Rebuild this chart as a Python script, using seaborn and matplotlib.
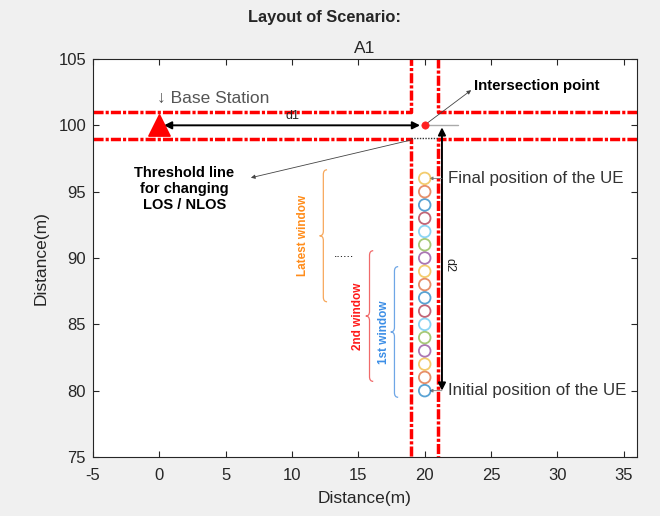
import numpy as np
import matplotlib
matplotlib.use("Agg")
import matplotlib.pyplot as plt
from matplotlib.path import Path
from matplotlib.patches import PathPatch
import seaborn as sns
import pandas as pd

# ---------------- data ----------------
ue_x = [20] * 17
ue_y = [80, 81, 82, 83, 84, 85, 86, 87, 88, 89, 90, 91, 92, 93, 94, 95, 96]
ue_colors = ["#0072BD", "#D95319", "#EDB120", "#7E2F8E", "#77AC30", "#4DBEEE", "#A2142F"]

bs_x, bs_y = [0], [100]
inter_x, inter_y = [20], [100]

# road edges (polylines)
road_left_top_x = [-5, 19, 19]
road_left_top_y = [101, 101, 105]
road_left_bot_x = [-5, 19, 19]
road_left_bot_y = [99, 99, 75]
road_right_top_x = [36, 21, 21]
road_right_top_y = [101, 101, 105]
road_right_bot_x = [36, 21, 21]
road_right_bot_y = [99, 99, 75]

window_labels = ["1st window", "2nd window", "Latest window"]
window_start = [79.5, 80.7, 86.7]
window_end = [89.35, 90.55, 96.65]

x_ticks = [-5, 0, 5, 10, 15, 20, 25, 30, 35]
y_ticks = [75, 80, 85, 90, 95, 100, 105]

# ---------------- style ----------------
sns.set_style("white")
plt.rcParams["font.family"] = ["Liberation Sans", "DejaVu Sans"]
plt.rcParams["axes.unicode_minus"] = False

fig = plt.figure(figsize=(6.6, 5.16), dpi=100, facecolor="#f0f0f0")
ax = fig.add_axes([93 / 660, 1 - 457 / 516, 544 / 660, 398 / 516])
ax.set_facecolor("white")

# roads
lw = 2.5
for xs, ys in [
    (road_left_top_x, road_left_top_y),
    (road_left_bot_x, road_left_bot_y),
    (road_right_top_x, road_right_top_y),
    (road_right_bot_x, road_right_bot_y),
]:
    ln, = ax.plot(xs, ys, color="#ff0000", lw=lw, solid_joinstyle="round")
    ln.set_dashes((2.9, 0.6, 0.9, 0.6))
    ln.set_dash_joinstyle("round")

# UE positions
df = pd.DataFrame({"x": ue_x, "y": ue_y, "c": [i % 7 for i in range(len(ue_y))]})
sns.scatterplot(data=df, x="x", y="y", hue="c", palette=ue_colors, legend=False,
                s=70, marker="o", linewidth=1.3, ax=ax, zorder=5)
pts = ax.collections[-1]
fc = pts.get_facecolors()
fc[:, 3] = 0.65
pts.set_edgecolors(fc)
pts.set_facecolors("none")

# base station and intersection point
sns.scatterplot(x=bs_x, y=bs_y, marker="^", s=230, color="#ff0000", edgecolor="#ff0000",
                ax=ax, zorder=6, legend=False)
sns.scatterplot(x=inter_x, y=inter_y, marker="o", s=28, color="#ff2020", edgecolor="#ff2020",
                ax=ax, zorder=6, legend=False)

# d1 arrow
ax.annotate("", xy=(0.35, 100), xytext=(19.65, 100),
            arrowprops=dict(arrowstyle="<|-|>", color="black", lw=1.4,
                            mutation_scale=11, shrinkA=0, shrinkB=0))
ax.text(10, 100.22, "d1", fontsize=9, ha="center", va="bottom", color="#222222")

# gray short line at intersection
ax.plot([20, 22.5], [100, 100], color="#aaaaaa", lw=1.0, zorder=3)

# d2 arrow
ax.annotate("", xy=(21.3, 99.85), xytext=(21.3, 80.0),
            arrowprops=dict(arrowstyle="<|-|>", color="black", lw=1.4,
                            mutation_scale=11, shrinkA=0, shrinkB=0))
ax.text(21.85, 89.5, "d2", fontsize=9, rotation=-90, ha="center", va="center", color="#222222")

# threshold dotted line
ax.plot([19, 21], [99.05, 99.05], color="#333333", lw=1.0, ls=(0, (1, 1)), zorder=4)
ax.annotate("", xy=(6.9, 96.05), xytext=(19.0, 98.9),
            arrowprops=dict(arrowstyle="-|>", color="#444444", lw=0.6,
                            mutation_scale=6, shrinkA=0, shrinkB=0))
ax.text(1.9, 95.2, "Threshold line\nfor changing\nLOS / NLOS", fontsize=10.5,
        fontweight="bold", ha="center", va="center", linespacing=1.2, color="black")

# intersection annotation
ax.annotate("", xy=(23.5, 102.65), xytext=(20.1, 100.1),
            arrowprops=dict(arrowstyle="-|>", color="#444444", lw=0.6,
                            mutation_scale=6, shrinkA=0, shrinkB=0))
ax.text(23.7, 103.0, "Intersection point", fontsize=10.8, fontweight="bold",
        ha="left", va="center", color="black")

# base station label
ax.text(-0.2, 102.0, "\u2193 Base Station", fontsize=12.5, ha="left", va="center", color="#555555")

# UE labels
for yy, lab in [(96.0, "Final position of the UE"), (80.0, "Initial position of the UE")]:
    ax.annotate("", xy=(20.35, yy), xytext=(21.3, yy),
                arrowprops=dict(arrowstyle="-|>", color="#777777", lw=0.6,
                                mutation_scale=5, shrinkA=0, shrinkB=0))
    ax.text(21.75, yy, lab, fontsize=12.2, ha="left", va="center", color="#333333")


# windows (curly braces)
def brace(ax, xb, y0, y1, color, w=0.28, r=0.35):
    ym = (y0 + y1) / 2
    verts = [(xb + w, y1), (xb, y1), (xb, y1 - r),
             (xb, ym + r), (xb, ym), (xb - w, ym),
             (xb, ym), (xb, ym - r),
             (xb, y0 + r), (xb, y0), (xb + w, y0)]
    codes = [Path.MOVETO, Path.CURVE3, Path.CURVE3,
             Path.LINETO, Path.CURVE3, Path.CURVE3,
             Path.CURVE3, Path.CURVE3,
             Path.LINETO, Path.CURVE3, Path.CURVE3]
    ax.add_patch(PathPatch(Path(verts, codes), fill=False, edgecolor=color, lw=0.9))


brace_x = [17.72, 15.84, 12.36]
brace_colors = ["#6ea6e6", "#f06a6a", "#f7a85c"]
label_x = [16.94, 14.98, 10.85]
label_colors = ["#3c8ee6", "#ff1a1a", "#ff8c1a"]
for lab, y0, y1, bx, bc, lx, lc in zip(window_labels, window_start, window_end,
                                       brace_x, brace_colors, label_x, label_colors):
    brace(ax, bx, y0, y1, bc)
    ax.text(lx, (y0 + y1) / 2, lab, rotation=90, fontsize=8.5, fontweight="bold",
            color=lc, ha="center", va="center")

ax.text(13.9, 89.85, "......", fontsize=9, ha="center", va="bottom", color="black")

# axes
ax.set_xlim(-5, 36)
ax.set_ylim(75, 105)
ax.set_xticks(x_ticks)
ax.set_yticks(y_ticks)
ax.xaxis.set_ticks_position("both")
ax.yaxis.set_ticks_position("both")
ax.tick_params(direction="in", length=4.5, width=0.8, colors="#262626", labelsize=12,
               top=True, right=True, bottom=True, left=True, labelcolor="#262626")
ax.tick_params(axis="x", pad=8)
ax.tick_params(axis="y", pad=5)
for s in ax.spines.values():
    s.set_color("#262626")
    s.set_linewidth(0.8)
ax.set_xlabel("Distance(m)", fontsize=12.5, color="#262626", labelpad=6)
ax.set_ylabel("Distance(m)", fontsize=12.5, color="#262626", labelpad=7)
ax.set_title("A1", fontsize=12.5, color="#262626", pad=4)
fig.text(0.492, 1 - 17 / 516, "Layout of Scenario:", fontsize=11.8, fontweight="bold",
         ha="center", va="center", color="#262626")

fig.savefig("out.png", dpi=100, facecolor=fig.get_facecolor())
